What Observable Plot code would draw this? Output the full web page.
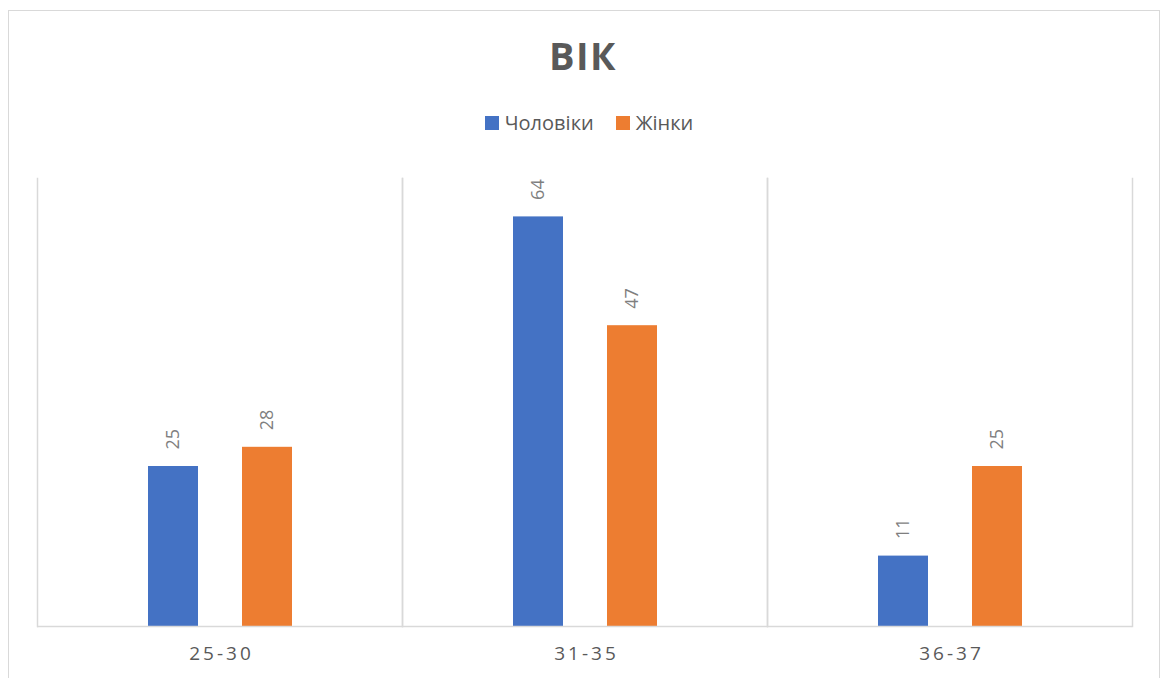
<!DOCTYPE html>
<html><head><meta charset="utf-8">
<script src="https://cdn.jsdelivr.net/npm/d3@7"></script>
<script src="https://cdn.jsdelivr.net/npm/@observablehq/plot@0.6"></script>
<style>
body{margin:0;background:#fff;font-family:"Open Sans",sans-serif;}
#wrap{position:relative;width:1166px;height:678px;overflow:hidden;background:#fff;}
#border{position:absolute;left:8px;top:10px;width:1152px;height:720px;border:1.5px solid #d9d9d9;box-sizing:border-box;}
#title{position:absolute;left:0;top:36px;width:1166px;text-align:center;font:bold 38px/38px "Open Sans",sans-serif;letter-spacing:1.5px;color:#595959;}
#legend{position:absolute;left:6px;top:113px;width:1166px;display:flex;justify-content:center;align-items:center;font:20px/20px "Open Sans",sans-serif;color:#595959;}
.item{display:flex;align-items:center;margin:0 11px;}
.sw{width:14px;height:14px;margin-right:6px;}
#chart{position:absolute;left:0;top:160px;}
g[aria-label="fx-axis tick label"] text{letter-spacing:3px;}
</style>
</head><body>
<div id="wrap">
<div id="border"></div>
<div id="title"></div>
<div id="legend"></div>
<div id="chart"></div>
</div>
<script>
const title = "ВІК";
const ages = ["25-30", "31-35", "36-37"];
const genders = ["Чоловіки", "Жінки"];
const men = [25, 64, 11];
const women = [28, 47, 25];
const colors = ["#4472c4", "#ed7d31"];

const data = ages.flatMap((a, i) => [
  {age: a, gender: genders[0], value: men[i]},
  {age: a, gender: genders[1], value: women[i]}
]);

document.getElementById("title").textContent = title;
const legend = document.getElementById("legend");
genders.forEach((g, i) => {
  const it = document.createElement("div"); it.className = "item";
  const sw = document.createElement("div"); sw.className = "sw"; sw.style.background = colors[i];
  const t = document.createElement("span"); t.textContent = g;
  it.appendChild(sw); it.appendChild(t); legend.appendChild(it);
});

const chart = Plot.plot({
  width: 1166, height: 518,
  marginTop: 18, marginBottom: 52, marginLeft: 37, marginRight: 34,
  fx: {domain: ages, padding: 0, label: null, axis: null},
  x: {domain: genders, paddingInner: 0.47, paddingOuter: 1.17, axis: null},
  y: {domain: [0, 70], axis: null},
  color: {domain: genders, range: colors},
  style: {fontFamily: "Open Sans, sans-serif", background: "transparent"},
  marks: [
    Plot.frame({anchor: "left", stroke: "#d9d9d9", strokeWidth: 1.5}),
    Plot.frame({anchor: "right", stroke: "#d9d9d9", strokeWidth: 1.5}),
    Plot.barY(data, {fx: "age", x: "gender", y: "value", fill: "gender"}),
    Plot.ruleY([0], {stroke: "#d9d9d9", strokeWidth: 1.5}),
    Plot.text(data, {fx: "age", x: "gender", y: "value", text: d => String(d.value),
      rotate: -90, textAnchor: "start", lineAnchor: "middle", dy: -17,
      fill: "#7f7f7f", fontSize: 18}),
    Plot.axisFx({anchor: "bottom", tickSize: 0, tickPadding: 20, fontSize: 19, fill: "#595959", label: null, dx: 1.5})
  ]
});
document.getElementById("chart").appendChild(chart);
</script>
</body></html>
